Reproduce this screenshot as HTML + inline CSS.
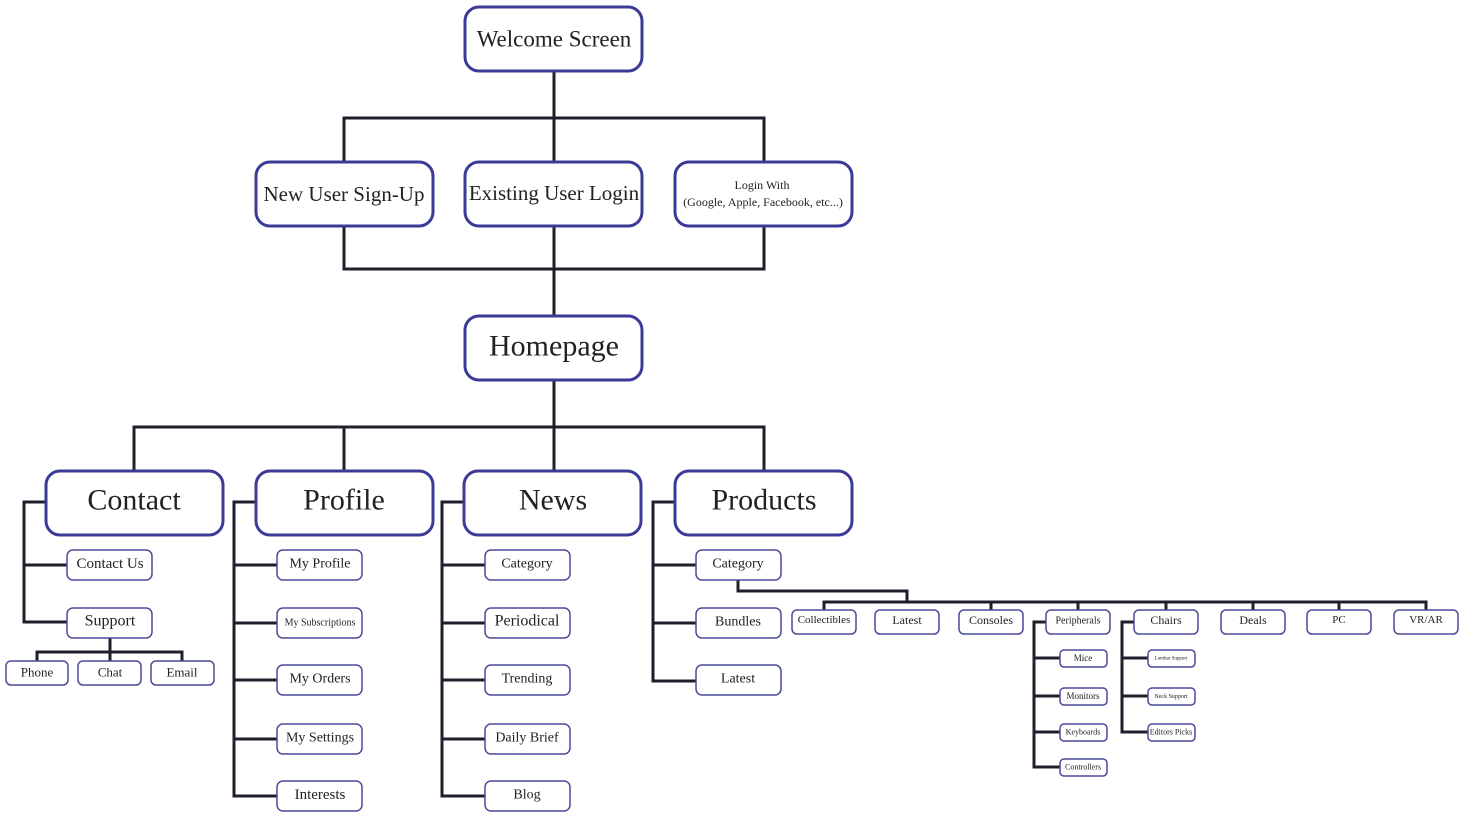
<!DOCTYPE html>
<html><head><meta charset="utf-8"><style>
html,body{margin:0;padding:0;background:#fff}
svg{display:block}
text{font-family:"Liberation Serif",serif;fill:#222;text-anchor:middle;dominant-baseline:central}
.b{fill:#fff;stroke:#3b3a97;stroke-width:3}
.s{fill:#fff;stroke:#4a4a9a;stroke-width:1.5}
.l{stroke:#1f1f2b;stroke-width:3;fill:none}
</style></head><body>
<svg width="1465" height="818" viewBox="0 0 1465 818">
<!-- connectors -->
<path class="l" d="M554 71V162M344 162V118H764V162M344 226V269H764V226M554 226V316M554 380V471M134 471V427H764V471M344 427V471"/>
<path class="l" d="M46 502H24V622H67M24 565H67M110 638V652M37 661V652H182V661M110 652V661"/>
<path class="l" d="M256 502H234V796H277M234 565H277M234 623H277M234 680H277M234 739H277"/>
<path class="l" d="M464 502H442V796H485M442 565H485M442 623H485M442 680H485M442 739H485"/>
<path class="l" d="M675 502H653V681H696M653 565H696M653 623H696"/>
<path class="l" d="M738 580V591H907V602M824 610V602H1426V610M1078 602V610M991 602V610M1166 602V610M1253 602V610M1339 602V610"/>
<path class="l" d="M1046 622H1034V767H1060M1034 658H1060M1034 696H1060M1034 732H1060"/>
<path class="l" d="M1134 622H1122V732H1148M1122 658H1148M1122 696H1148"/>
<!-- top -->
<rect class="b" x="465" y="7" width="177" height="64" rx="14"/><text x="554" y="39" font-size="23">Welcome Screen</text>
<rect class="b" x="256" y="162" width="177" height="64" rx="14"/><text x="344" y="194" font-size="21">New User Sign-Up</text>
<rect class="b" x="465" y="162" width="177" height="64" rx="14"/><text x="554" y="193" font-size="21">Existing User Login</text>
<rect class="b" x="675" y="162" width="177" height="64" rx="14"/><text x="762" y="185" font-size="12">Login With</text><text x="763" y="202" font-size="12">(Google, Apple, Facebook, etc...)</text>
<rect class="b" x="465" y="316" width="177" height="64" rx="14"/><text x="554" y="346" font-size="30">Homepage</text>
<rect class="b" x="46" y="471" width="177" height="64" rx="14"/><text x="134" y="500" font-size="30">Contact</text>
<rect class="b" x="256" y="471" width="177" height="64" rx="14"/><text x="344" y="500" font-size="30">Profile</text>
<rect class="b" x="464" y="471" width="177" height="64" rx="14"/><text x="553" y="500" font-size="30">News</text>
<rect class="b" x="675" y="471" width="177" height="64" rx="14"/><text x="764" y="500" font-size="30">Products</text>
<!-- contact -->
<rect class="s" x="67" y="550" width="85" height="30" rx="6"/><text x="110" y="564" font-size="15">Contact Us</text>
<rect class="s" x="67" y="608" width="85" height="30" rx="6"/><text x="110" y="621" font-size="16">Support</text>
<rect class="s" x="6" y="661" width="62" height="24" rx="5"/><text x="37" y="672" font-size="13">Phone</text>
<rect class="s" x="78" y="661" width="63" height="24" rx="5"/><text x="110" y="672" font-size="13">Chat</text>
<rect class="s" x="151" y="661" width="63" height="24" rx="5"/><text x="182" y="672" font-size="13">Email</text>
<!-- profile -->
<rect class="s" x="277" y="550" width="85" height="30" rx="6"/><text x="320" y="564" font-size="14">My Profile</text>
<rect class="s" x="277" y="608" width="85" height="30" rx="6"/><text x="320" y="623" font-size="10">My Subscriptions</text>
<rect class="s" x="277" y="665" width="85" height="30" rx="6"/><text x="320" y="679" font-size="14">My Orders</text>
<rect class="s" x="277" y="724" width="85" height="30" rx="6"/><text x="320" y="738" font-size="14">My Settings</text>
<rect class="s" x="277" y="781" width="85" height="30" rx="6"/><text x="320" y="795" font-size="15">Interests</text>
<!-- news -->
<rect class="s" x="485" y="550" width="85" height="30" rx="6"/><text x="527" y="564" font-size="14">Category</text>
<rect class="s" x="485" y="608" width="85" height="30" rx="6"/><text x="527" y="621" font-size="16">Periodical</text>
<rect class="s" x="485" y="665" width="85" height="30" rx="6"/><text x="527" y="679" font-size="14">Trending</text>
<rect class="s" x="485" y="724" width="85" height="30" rx="6"/><text x="527" y="738" font-size="14">Daily Brief</text>
<rect class="s" x="485" y="781" width="85" height="30" rx="6"/><text x="527" y="795" font-size="14">Blog</text>
<!-- products -->
<rect class="s" x="696" y="550" width="85" height="30" rx="6"/><text x="738" y="564" font-size="14">Category</text>
<rect class="s" x="696" y="608" width="85" height="30" rx="6"/><text x="738" y="622" font-size="14">Bundles</text>
<rect class="s" x="696" y="665" width="85" height="30" rx="6"/><text x="738" y="679" font-size="14">Latest</text>
<rect class="s" x="792" y="610" width="64" height="24" rx="5"/><text x="824" y="620" font-size="11">Collectibles</text>
<rect class="s" x="875" y="610" width="64" height="24" rx="5"/><text x="907" y="620" font-size="12">Latest</text>
<rect class="s" x="959" y="610" width="64" height="24" rx="5"/><text x="991" y="620" font-size="12">Consoles</text>
<rect class="s" x="1046" y="610" width="64" height="24" rx="5"/><text x="1078" y="621" font-size="10">Peripherals</text>
<rect class="s" x="1134" y="610" width="64" height="24" rx="5"/><text x="1166" y="620" font-size="12">Chairs</text>
<rect class="s" x="1221" y="610" width="64" height="24" rx="5"/><text x="1253" y="620" font-size="12">Deals</text>
<rect class="s" x="1307" y="610" width="64" height="24" rx="5"/><text x="1339" y="620" font-size="11">PC</text>
<rect class="s" x="1394" y="610" width="64" height="24" rx="5"/><text x="1426" y="620" font-size="11">VR/AR</text>
<rect class="s" x="1060" y="650" width="47" height="17" rx="4"/><text x="1083" y="658" font-size="9">Mice</text>
<rect class="s" x="1060" y="688" width="47" height="17" rx="4"/><text x="1083" y="696" font-size="9">Monitors</text>
<rect class="s" x="1060" y="724" width="47" height="17" rx="4"/><text x="1083" y="732" font-size="8">Keyboards</text>
<rect class="s" x="1060" y="759" width="47" height="17" rx="4"/><text x="1083" y="767" font-size="8">Controllers</text>
<rect class="s" x="1148" y="650" width="47" height="17" rx="4"/><text x="1171" y="659" font-size="5">Lumbar Support</text>
<rect class="s" x="1148" y="688" width="47" height="17" rx="4"/><text x="1171" y="697" font-size="6">Neck Support</text>
<rect class="s" x="1148" y="724" width="47" height="17" rx="4"/><text x="1171" y="732" font-size="8">Editors Picks</text>
</svg>
</body></html>
